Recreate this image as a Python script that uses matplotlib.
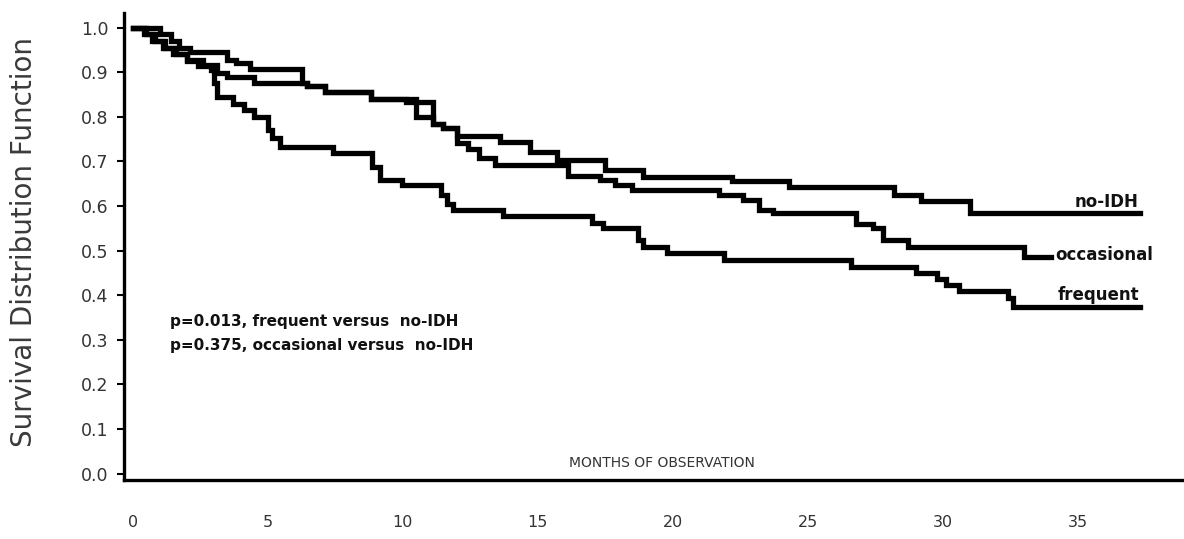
import matplotlib
matplotlib.use("Agg")
import matplotlib.pyplot as plt

# ---- data (months, survival) ----
noidh_t = [0, 1.0, 1.4, 1.7, 2.1, 3.5, 3.8, 4.35, 6.25, 6.45, 7.1, 8.8, 10.1, 11.1, 11.5,
           12.0, 13.6, 14.7, 15.7, 17.5, 18.9, 22.2, 24.3, 28.2, 29.2, 31.0, 37.3]
noidh_s = [1.0, 0.985, 0.97, 0.955, 0.946, 0.927, 0.92, 0.907, 0.875, 0.869, 0.856, 0.841,
           0.834, 0.785, 0.775, 0.757, 0.744, 0.722, 0.703, 0.68, 0.666, 0.656, 0.643,
           0.625, 0.612, 0.584, 0.584]

occ_t = [0, 0.4, 0.7, 1.1, 1.5, 2.0, 2.6, 3.1, 3.5, 4.5, 6.45, 7.1, 8.8, 10.5, 11.1, 11.5,
         12.0, 12.4, 12.8, 13.4, 16.1, 17.3, 17.85, 18.5, 21.7, 22.6, 23.2, 23.7, 26.8,
         27.4, 27.8, 28.7, 33.0, 34.0]
occ_s = [1.0, 0.985, 0.97, 0.955, 0.94, 0.927, 0.916, 0.898, 0.889, 0.875, 0.869, 0.856,
         0.841, 0.80, 0.785, 0.775, 0.741, 0.728, 0.708, 0.692, 0.667, 0.658, 0.648, 0.637,
         0.624, 0.613, 0.592, 0.584, 0.559, 0.55, 0.524, 0.509, 0.486, 0.486]

freq_t = [0, 0.5, 0.8, 1.2, 1.6, 2.0, 2.4, 2.9, 3.0, 3.1, 3.7, 4.1, 4.5, 5.0, 5.15, 5.45,
          7.4, 8.85, 9.15, 9.95, 11.4, 11.65, 11.85, 13.7, 17.0, 17.4, 18.7, 18.9, 19.8,
          21.9, 26.6, 29.0, 29.8, 30.1, 30.6, 32.4, 32.6, 37.3]
freq_s = [1.0, 0.985, 0.97, 0.955, 0.94, 0.925, 0.915, 0.905, 0.875, 0.845, 0.83, 0.815,
          0.80, 0.77, 0.752, 0.733, 0.72, 0.688, 0.658, 0.647, 0.625, 0.605, 0.591, 0.578,
          0.562, 0.55, 0.524, 0.508, 0.494, 0.479, 0.464, 0.45, 0.436, 0.423, 0.41, 0.394,
          0.374, 0.374]

x_ticks = [0, 5, 10, 15, 20, 25, 30, 35]
y_ticks = [0.0, 0.1, 0.2, 0.3, 0.4, 0.5, 0.6, 0.7, 0.8, 0.9, 1.0]

curve_labels = ["no-IDH", "occasional", "frequent"]
p_texts = ["p=0.013, frequent versus  no-IDH", "p=0.375, occasional versus  no-IDH"]

# ---- figure ----
W, H = 1184, 539
fig = plt.figure(figsize=(W / 100, H / 100), dpi=100)
ax = fig.add_axes([124 / W, 59 / H, (W - 124) / W, (480 - 13) / H])

for t, s in [(noidh_t, noidh_s), (occ_t, occ_s), (freq_t, freq_s)]:
    ax.step(t, s, where="post", color="black", lw=3.8, solid_joinstyle="miter")

ax.set_xlim(-0.33, 38.93)
ax.set_ylim(-0.0144, 1.033)

ax.spines["top"].set_visible(False)
ax.spines["right"].set_visible(False)
ax.spines["left"].set_linewidth(2.4)
ax.spines["bottom"].set_linewidth(2.4)

ax.set_yticks(y_ticks)
ax.set_yticklabels([f"{v:.1f}" for v in y_ticks])
ax.set_xticks(x_ticks)
ax.set_xticklabels([str(v) for v in x_ticks])
ax.tick_params(axis="y", direction="out", length=5, width=1.5, pad=6,
               labelsize=12.5, labelcolor="#333333")
ax.tick_params(axis="x", length=0, pad=25, labelsize=11.5, labelcolor="#333333")

ax.set_ylabel("Survival Distribution Function", fontsize=20, color="#3a3a3a")
ax.yaxis.set_label_coords(-0.081, 0.51)

# curve labels
lab_kw = dict(va="center", fontsize=12, fontweight="bold", color="#111111")
ax.text(37.26, 0.609, curve_labels[0], ha="right", **lab_kw)
ax.text(34.15, 0.49, curve_labels[1], ha="left", **lab_kw)
ax.text(37.26, 0.40, curve_labels[2], ha="right", **lab_kw)

# p values
p_kw = dict(ha="left", va="center", fontsize=11, fontweight="bold", color="#111111")
ax.text(1.37, 0.34, p_texts[0], **p_kw)
ax.text(1.37, 0.288, p_texts[1], **p_kw)

ax.text(19.6, 0.024, "MONTHS OF OBSERVATION", ha="center", va="center", fontsize=10,
        color="#333333")

fig.savefig("out.png", dpi=100)
